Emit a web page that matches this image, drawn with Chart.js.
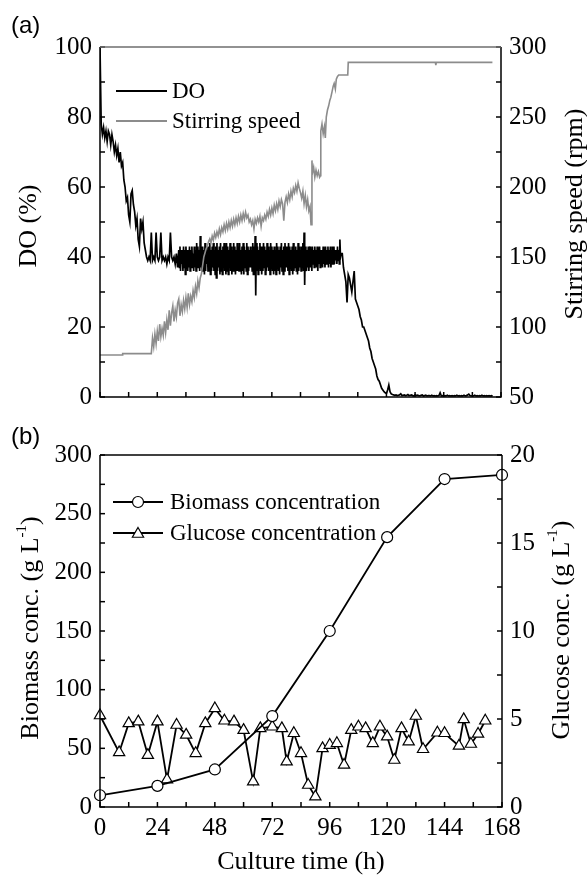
<!DOCTYPE html>
<html lang="en">
<head>
<meta charset="UTF-8" />
<title>DO, stirring speed, biomass and glucose</title>
<style>
  * { margin: 0; padding: 0; }
  body { background: #fff; width: 587px; height: 876px; overflow: hidden; }
  canvas { display: block; }
</style>
</head>
<body>
<canvas id="chartA" width="587" height="420"></canvas>
<canvas id="chartB" width="587" height="456"></canvas>

<script src="https://cdn.jsdelivr.net/npm/chart.js"></script>
<script>
// ---- data ----
// DO probe log (%), three phases with their start time and logging step (h)
const doBatchStart = 0, doBatchStep = 0.5;
const doBatch = [
  100,78,75,77,74,76,73,76,75,72,
  75,73,70,72,69,71,67,70,66,67,
  62,60,56,57,52,50,58,59,55,53,
  49,51,45,43,51,48,50,44,42,40,
  39,40,39,47,39,40,39,47,40,39,
  40,47,39,40,39,40,38,40,39,47,
  40,39,40,38,41,37
];

const doCtrlStart = 33, doCtrlStep = 0.25;
const doCtrl = [
  42,37,43,36,42,38,41,36,43,37,42,35,43,38,42,36,41,37,43,36,
  42,37,43,38,41,36,43,37,42,36,44,37,43,38,42,36,46,37,43,36,
  43,37,42,35,44,36,43,38,42,36,43,37,44,35,42,36,43,37,44,36,
  42,35,43,34,44,36,42,37,43,35,44,36,42,35,43,37,44,36,42,35,
  44,36,43,35,42,37,44,36,43,35,42,36,44,37,43,35,42,36,44,36,
  43,36,44,37,42,35,43,36,44,35,43,37,42,36,44,35,43,36,42,37,
  43,37,42,36,44,35,43,36,46,29,44,36,43,35,42,37,44,36,43,35,
  42,36,44,37,43,35,42,36,44,37,43,36,42,35,44,37,43,36,42,35,
  43,36,42,35,44,37,43,36,42,35,43,37,44,36,42,35,43,36,44,37,
  43,37,42,36,44,35,43,37,42,36,43,35,44,36,42,37,43,36,42,35,
  44,36,43,37,42,36,43,37,44,36,47,32,43,37,36,42,37,43,36,42,
  43,37,42,36,43,38,42,37,43,38,42,37,43,36,42,38,43,37,42,38,
  42,37,43,38,42,37,43,38,42,38,43,37,42,38,43,37,42,38,43,38,
  43,38,42,39,42,38,43,39,42,38,45,40,
  41
];

const doFedStart = 101.5, doFedStep = 0.5;
const doFed = [
  41,37,35,33,27,35,34,32,30,33,36,28,27,26,25,23,22,20,20,19,18,17,
  16,14,13,11,10,9,8,6,5,4.5,3.5,2.5,2,1.5,1.2,1,2,3.4,1.5,0.9,0.7,
  0.6,0.5,0.6,0.4,0.5,0.6,0.9,0.4,0.5,0.6,
  0.4,0.5,0.7,0.4,0.5,0.6,0.4,0.3,0.6,0.4,
  0.5,0.4,0.3,0.5,0.6,0.3,0.4,0.5,0.3,0.4,
  0.4,0.3,0.5,0.3,0.4,0.3,0.4,0.3,0.4,1.2,
  0.3,0.4,0.3,0.4,0.3,0.5,0.3,0.4,0.3,0.4,
  0.3,0.4,0.3,0.5,0.3,0.4,0.3,0.4,0.3,0.5,
  0.3,0.4,0.6,0.8,0.4,0.3,0.4,0.3,0.5,0.3,
  0.4,0.3,0.4,0.3,0.5,0.3,0.4,0.3,0.4,0.3,
  0.4,0.3,0.4,0.3
];

// stirring speed [h, rpm]
const stirSpeed = [
  [0,80],[9.3,80],[9.5,81],[21.5,81],[22,92],[22.5,86],[23,95],[23.5,88],[24,97],[24.5,90],
  [25,102],[25.5,93],[26,99],[26.5,94],[27,104],[27.5,96],[28,105],[28.5,98],[29,112],[29.5,101],
  [30,110],[30.5,115],[31,104],[31.5,112],[32,107],[32.5,117],[33,120],[33.5,108],[34,116],[34.5,111],
  [35,119],[35.5,113],[36,121],[36.5,114],[37,124],[37.5,116],[38,122],[38.5,118],[39,126],[39.5,121],
  [40,129],[40.5,124],[41,133],[41.5,128],[42,135],[42.5,138],[43,144],[43.5,150],[44,153],[44.5,156],
  [45,158],[45.5,161],[46,163],[46.5,160],[47,165],[47.5,162],[48,167],[48.5,164],[49,168],[49.5,165],
  [50,170],[50.5,166],[51,171],[51.5,168],[52,173],[52.5,169],[53,174],[53.5,170],[54,175],[54.5,171],
  [55,176],[55.5,172],[56,177],[56.5,173],[57,178],[57.5,174],[58,179],[58.5,175],[59,180],[59.5,176],
  [60,181],[60.5,177],[61,182],[61.5,178],[62,180],[62.5,175],[63,177],[63.5,173],[64,176],[64.5,170],
  [65,177],[65.5,174],[66,178],[66.5,175],[67,179],[67.5,172],[68,178],[68.5,176],[69,180],[69.5,177],
  [70,182],[70.5,179],[71,184],[71.5,180],[72,185],[72.5,181],[73,187],[73.5,183],[74,188],[74.5,184],
  [75,190],[75.5,186],[76,191],[76.5,188],[77,176],[77.5,189],[78,193],[78.5,189],[79,195],[79.5,191],
  [80,197],[80.5,193],[81,199],[81.5,196],[82,201],[82.5,197],[83,203],[83.5,199],[84,196],[84.5,192],
  [85,197],[85.5,188],[86,194],[86.5,186],[87,191],[87.5,183],[88,186],[88.4,173],[88.8,219],[89,210],
  [89.5,214],[90,207],[90.5,212],[91,208],[91.5,211],[92,207],[92.3,208],[92.5,240],[93,245],[93.5,238],
  [94,243],[94.4,235],[94.8,250],[95.3,255],[95.8,258],[96.3,262],[96.7,264],[97.2,268],[97.7,272],[98.1,274],
  [98.6,270],[99,277],[99.5,279],[100,280],[103.8,280],[104,289],[140.5,289],[140.7,287],[140.9,289],[164.4,289]
];

const biomassTime = [0, 24, 48, 72, 96, 120, 144, 168];
const biomassConc = [10, 18, 32, 77.5, 150, 230, 279.5, 283];

const glucoseTime = [0,8,12,16,20,24,28,32,36,40,44,48,52,56,60,64,67,72,76,78,
  81,84,87,90,93,96,99,102,105,108,111,114,117,120,123,126,129,132,135,141,
  144,150,152,155,158,161];
const glucoseConc = [5.2,3.1,4.75,4.85,2.95,4.85,1.55,4.66,4.1,3.05,4.75,5.6,4.9,4.85,4.37,1.44,4.47,4.56,4.47,2.58,
  4.19,3.05,1.25,0.59,3.33,3.52,3.62,2.39,4.37,4.56,4.47,3.62,4.56,4.0,2.67,4.47,3.71,5.17,3.28,4.22,
  4.19,3.47,4.98,3.58,4.15,4.9];

// tick labels
const timeLabels = [0, 24, 48, 72, 96, 120, 144, 168];
const doLabels = [0, 20, 40, 60, 80, 100];
const rpmLabels = [50, 100, 150, 200, 250, 300];
const biomassLabels = [0, 50, 100, 150, 200, 250, 300];
const glucoseLabels = [0, 5, 10, 15, 20];

// ---- helpers ----
const SERIF = '"Liberation Serif", "Times New Roman", serif';
const tickFont = { family: SERIF, size: 25 };

function labelOnly(list) {
  return v => (list.includes(v) ? v : '');
}

function logged(start, step, values) {
  return values.map((v, i) => ({ x: start + i * step, y: v }));
}

// rotated title reading bottom-to-top; parts may carry a superscript
function drawVTitle(ctx, cx, cy, parts) {
  ctx.save();
  ctx.translate(cx, cy);
  ctx.rotate(-Math.PI / 2);
  ctx.fillStyle = '#000';
  ctx.textAlign = 'left';
  ctx.textBaseline = 'middle';
  const font = p => (p.sup ? '15px ' + SERIF : '26px ' + SERIF);
  let w = 0;
  parts.forEach(p => { ctx.font = font(p); w += ctx.measureText(p.text).width; });
  let x = -w / 2;
  parts.forEach(p => {
    ctx.font = font(p);
    ctx.fillText(p.text, x, p.sup ? -9 : 0);
    x += ctx.measureText(p.text).width;
  });
  ctx.restore();
}

function drawTriangle(ctx, x, y, r) {
  ctx.beginPath();
  for (let i = 0; i < 3; i++) {
    const a = i * 2 * Math.PI / 3;
    ctx.lineTo(x + Math.sin(a) * r, y - Math.cos(a) * r);
  }
  ctx.closePath();
  ctx.fill();
  ctx.stroke();
}

// frame + inward tick marks
const frameTicks = {
  id: 'frameTicks',
  afterDatasetsDraw(chart, args, opts) {
    const { ctx, chartArea: { left, right, top, bottom } } = chart;
    ctx.save();
    ctx.lineWidth = 1.5;
    ctx.strokeStyle = '#000';
    Object.values(chart.scales).forEach(scale => {
      scale.ticks.forEach(t => {
        const p = scale.getPixelForValue(t.value);
        ctx.beginPath();
        if (scale.axis === 'x') { ctx.moveTo(p, bottom); ctx.lineTo(p, bottom - 5); }
        else if (scale.position === 'left') { ctx.moveTo(left, p); ctx.lineTo(left + 5, p); }
        else { ctx.moveTo(right, p); ctx.lineTo(right - 5, p); }
        ctx.stroke();
      });
    });
    ctx.beginPath();
    ctx.moveTo(left, top); ctx.lineTo(left, bottom); ctx.lineTo(right, bottom); ctx.lineTo(right, top);
    ctx.stroke();
    ctx.strokeStyle = opts.topColor || '#000';
    ctx.beginPath();
    ctx.moveTo(left, top); ctx.lineTo(right, top);
    ctx.stroke();
    ctx.restore();
  }
};

const noGrid = { display: false, drawTicks: false };

// ---- panel (a) ----
const annotA = {
  id: 'annotA',
  afterDraw(chart) {
    const ctx = chart.ctx;
    ctx.save();
    ctx.fillStyle = '#000';
    ctx.font = '24px "Liberation Sans", Arial, sans-serif';
    ctx.textBaseline = 'middle';
    ctx.textAlign = 'left';
    ctx.fillText('(a)', 11, 26);

    // legend
    ctx.lineWidth = 2;
    ctx.strokeStyle = '#000';
    ctx.beginPath(); ctx.moveTo(116, 91); ctx.lineTo(167, 91); ctx.stroke();
    ctx.strokeStyle = '#8c8c8c';
    ctx.beginPath(); ctx.moveTo(116, 121); ctx.lineTo(167, 121); ctx.stroke();
    ctx.font = '23px ' + SERIF;
    ctx.fillText('DO', 172, 92);
    ctx.fillText('Stirring speed', 172, 122);
    ctx.restore();

    drawVTitle(ctx, 29, 226, [{ text: 'DO (%)' }]);
    drawVTitle(ctx, 575, 214, [{ text: 'Stirring speed (rpm)' }]);
  }
};

new Chart(document.getElementById('chartA'), {
  type: 'line',
  data: {
    datasets: [
      {
        label: 'DO',
        data: [
          ...logged(doBatchStart, doBatchStep, doBatch),
          ...logged(doCtrlStart, doCtrlStep, doCtrl),
          ...logged(doFedStart, doFedStep, doFed)
        ],
        yAxisID: 'yDO',
        borderColor: '#000',
        borderWidth: 1.7,
        pointRadius: 0,
        order: 1
      },
      {
        label: 'Stirring speed',
        data: stirSpeed.map(([t, v]) => ({ x: t, y: v })),
        yAxisID: 'yRpm',
        borderColor: '#8c8c8c',
        borderWidth: 1.6,
        pointRadius: 0,
        order: 0
      }
    ]
  },
  options: {
    responsive: false,
    animation: false,
    layout: { padding: { top: 47, left: 0, right: 0, bottom: 0 } },
    plugins: { legend: { display: false }, tooltip: { enabled: false }, frameTicks: { topColor: '#6e6e6e' } },
    scales: {
      x: {
        type: 'linear', min: 0, max: 168,
        ticks: { stepSize: 12, display: false },
        grid: noGrid, border: { display: false },
        afterFit: s => { s.height = 23; }
      },
      yDO: {
        position: 'left', min: 0, max: 100,
        ticks: { stepSize: 10, callback: labelOnly(doLabels), font: tickFont, color: '#000', padding: 8, autoSkip: false },
        grid: noGrid, border: { display: false },
        afterFit: s => { s.width = 100; }
      },
      yRpm: {
        position: 'right', min: 50, max: 300,
        ticks: { stepSize: 25, callback: labelOnly(rpmLabels), font: tickFont, color: '#000', padding: 8, autoSkip: false },
        grid: noGrid, border: { display: false },
        afterFit: s => { s.width = 86; }
      }
    }
  },
  plugins: [frameTicks, annotA]
});

// ---- panel (b) ----
const annotB = {
  id: 'annotB',
  afterDraw(chart) {
    const ctx = chart.ctx;
    ctx.save();
    ctx.fillStyle = '#000';
    ctx.font = '24px "Liberation Sans", Arial, sans-serif';
    ctx.textBaseline = 'middle';
    ctx.textAlign = 'left';
    ctx.fillText('(b)', 11, 17);

    // legend
    ctx.strokeStyle = '#000';
    ctx.lineWidth = 1.8;
    ctx.beginPath(); ctx.moveTo(113, 82); ctx.lineTo(163, 82); ctx.stroke();
    ctx.beginPath(); ctx.moveTo(113, 113); ctx.lineTo(163, 113); ctx.stroke();
    ctx.fillStyle = '#fff';
    ctx.lineWidth = 1.2;
    ctx.beginPath(); ctx.arc(138, 82, 5.5, 0, Math.PI * 2); ctx.fill(); ctx.stroke();
    drawTriangle(ctx, 138, 114, 6.5);
    ctx.fillStyle = '#000';
    ctx.font = '23px ' + SERIF;
    ctx.fillText('Biomass concentration', 170, 83);
    ctx.fillText('Glucose concentration', 170, 114);

    ctx.font = '26px ' + SERIF;
    ctx.textAlign = 'center';
    ctx.fillText('Culture time (h)', 301, 442);
    ctx.restore();

    drawVTitle(ctx, 31, 208, [{ text: 'Biomass conc. (g L' }, { text: '-1', sup: true }, { text: ')' }]);
    drawVTitle(ctx, 562, 210, [{ text: 'Glucose conc. (g L' }, { text: '-1', sup: true }, { text: ')' }]);
  }
};

new Chart(document.getElementById('chartB'), {
  type: 'line',
  data: {
    datasets: [
      {
        label: 'Biomass concentration',
        data: biomassTime.map((t, i) => ({ x: t, y: biomassConc[i] })),
        yAxisID: 'yBio',
        borderColor: '#000',
        borderWidth: 1.8,
        pointStyle: 'circle',
        pointRadius: 5.5,
        pointBorderWidth: 1.2,
        pointBackgroundColor: '#fff',
        pointBorderColor: '#000',
        clip: false
      },
      {
        label: 'Glucose concentration',
        data: glucoseTime.map((t, i) => ({ x: t, y: glucoseConc[i] })),
        yAxisID: 'yGlu',
        borderColor: '#000',
        borderWidth: 1.8,
        pointStyle: 'triangle',
        pointRadius: 6.5,
        pointBorderWidth: 1.2,
        pointBackgroundColor: '#fff',
        pointBorderColor: '#000',
        clip: false
      }
    ]
  },
  options: {
    responsive: false,
    animation: false,
    layout: { padding: { top: 35, left: 0, right: 0, bottom: 0 } },
    plugins: { legend: { display: false }, tooltip: { enabled: false }, frameTicks: { topColor: '#000' } },
    scales: {
      x: {
        type: 'linear', min: 0, max: 168,
        ticks: { stepSize: 12, callback: labelOnly(timeLabels), font: tickFont, color: '#000', padding: 6, autoSkip: false, maxRotation: 0 },
        grid: noGrid, border: { display: false },
        afterFit: s => { s.height = 69; }
      },
      yBio: {
        position: 'left', min: 0, max: 300,
        ticks: { stepSize: 25, callback: labelOnly(biomassLabels), font: tickFont, color: '#000', padding: 8, autoSkip: false },
        grid: noGrid, border: { display: false },
        afterFit: s => { s.width = 100; }
      },
      yGlu: {
        position: 'right', min: 0, max: 20,
        ticks: { stepSize: 2.5, callback: labelOnly(glucoseLabels), font: tickFont, color: '#000', padding: 8, autoSkip: false },
        grid: noGrid, border: { display: false },
        afterFit: s => { s.width = 85; }
      }
    }
  },
  plugins: [frameTicks, annotB]
});
</script>
</body>
</html>
